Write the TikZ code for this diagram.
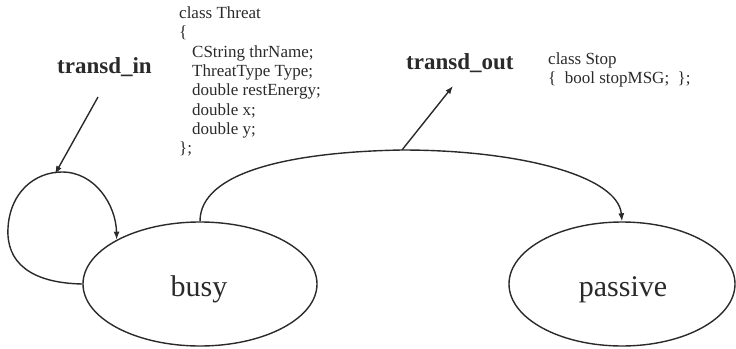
\documentclass[tikz,border=0pt]{standalone}
\usepackage{fontspec}
\setmainfont{Liberation Serif}
\usetikzlibrary{arrows.meta,shapes.geometric}

\definecolor{ink}{HTML}{2A2A2A}

\tikzset{
  state/.style={draw=ink, line width=1.4pt, ellipse, inner sep=0pt},
  statetext/.style={anchor=base, inner sep=0pt,
    font=\fontsize{30}{34}\selectfont, text=ink},
  codeline/.style={anchor=base west, inner sep=0pt,
    font=\fontsize{17}{19}\selectfont, text=ink},
  evlabel/.style={anchor=base west, inner sep=0pt,
    font=\fontsize{23}{25}\selectfont\bfseries, text=ink},
  trans/.style={draw=ink, line width=1.4pt,
    -{Latex[length=8pt,width=6pt]}},
}

\begin{document}
\begin{tikzpicture}[x=1pt, y=-1pt]
  \useasboundingbox (0,0) rectangle (736,348);

  % states
  \node[state, minimum width=234pt, minimum height=124pt] (busy) at (200,284) {};
  \node[state, minimum width=226pt, minimum height=124pt] (passive) at (622,284) {};
  \node[statetext] (busytext) at (199,296) {busy};
  \node[statetext] (passivetext) at (623,296) {passive};

  % event labels
  \node[evlabel] (tin)  at (57,73) {transd\_in};
  \node[evlabel] (tout) at (406,69) {transd\_out};

  % message class for the input port
  \node[codeline] (c1) at (179,18.5)  {class Threat};
  \node[codeline] (c2) at (179,37.8)  {\{};
  \node[codeline] (c3) at (192,57.1)  {CString thrName;};
  \node[codeline] (c4) at (192,76.4)  {ThreatType Type;};
  \node[codeline] (c5) at (192,95.7)  {double restEnergy;};
  \node[codeline] (c6) at (192,115.0) {double x;};
  \node[codeline] (c7) at (192,134.3) {double y;};
  \node[codeline] (c8) at (179,153.6) {\};};

  % message class for the output port
  \node[codeline] (s1) at (548,64) {class Stop};
  \node[codeline] (s2) at (548,83.5) {\{\ \ bool stopMSG;\ \ \};};

  % self transition on busy
  \coordinate (looptop) at (62,172);
  \draw[trans] (busy.west) .. controls (30,283) and (6,262) .. (8,228)
    .. controls (10,192) and (35,172) .. (looptop)
    .. controls (95,172) and (116,205) .. (busy.152);

  % input event arrow
  \coordinate (inStart) at (98,97);
  \coordinate (inTip) at (55,174);
  \draw[trans] (inStart) -- (inTip);

  % busy -> passive
  \coordinate (outStart) at (402,150);
  \draw[trans] (busy.north) .. controls (200,172) and (290,152) .. (outStart)
    .. controls (520,150) and (618,176) .. (passive.north);

  % output event arrow
  \coordinate (outTip) at (453,86);
  \draw[trans] (outStart) -- (outTip);
\end{tikzpicture}
\end{document}
